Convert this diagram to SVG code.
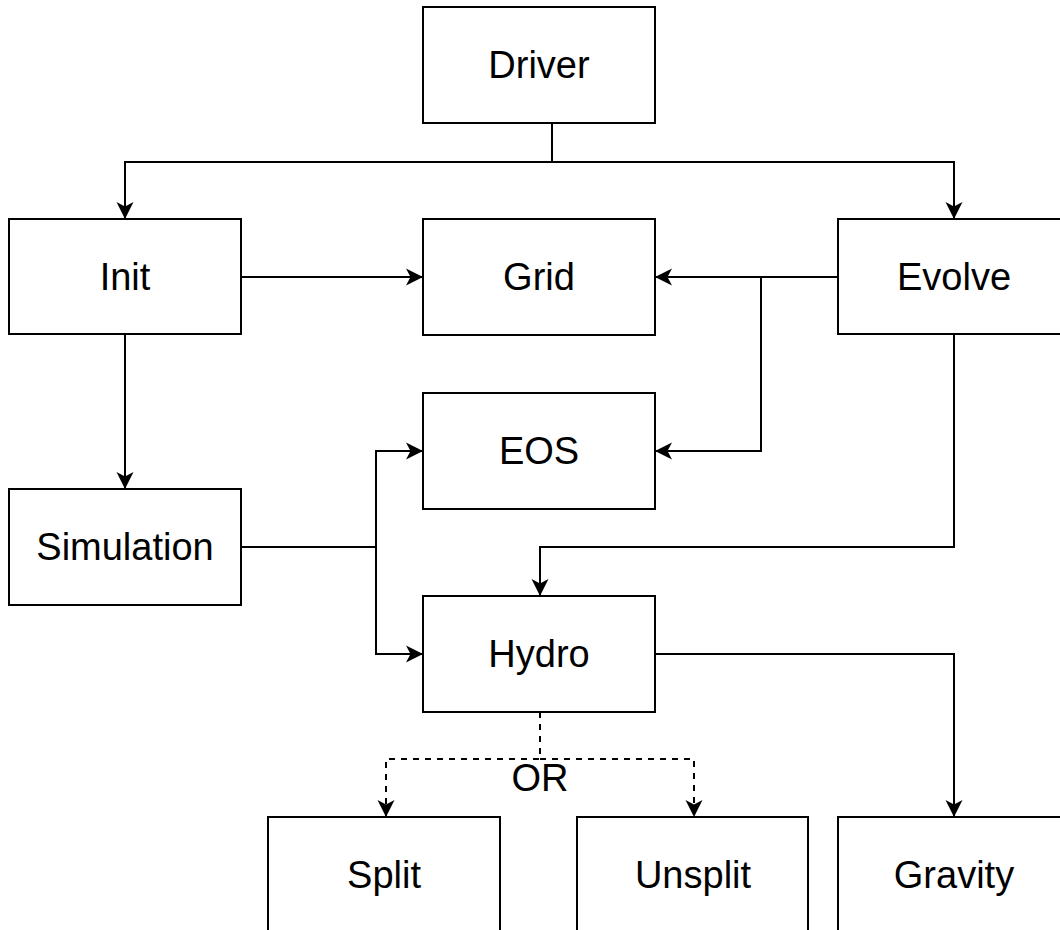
<svg xmlns="http://www.w3.org/2000/svg" width="1060" height="930" viewBox="0 0 1060 930">
<style>
.box{fill:#fff;stroke:#000;stroke-width:2}
.lbl{font-family:"Liberation Sans",Arial,sans-serif;font-size:38px;fill:#000;text-anchor:middle}
.edge{fill:none;stroke:#000;stroke-width:2}
.dash{stroke-dasharray:6 6}
</style>
<defs>
<marker id="arr" viewBox="-18 -10 20 20" refX="0" refY="0" markerWidth="20" markerHeight="20" markerUnits="userSpaceOnUse" orient="auto">
<path d="M0,0 L-17,-8.5 L-12.5,0 L-17,8.5 Z" fill="#000" stroke="none"/>
</marker>
</defs>
<rect width="1060" height="930" fill="#fff"/>
<g id="connectors">
<path class="edge" d="M552,123 V162 H125 V219" marker-end="url(#arr)"/>
<path class="edge" d="M552,162 H954 V219" marker-end="url(#arr)"/>
<path class="edge" d="M241,277 H423" marker-end="url(#arr)"/>
<path class="edge" d="M838,277 H655" marker-end="url(#arr)"/>
<path class="edge" d="M761,277 V451 H655" marker-end="url(#arr)"/>
<path class="edge" d="M125,334 V489" marker-end="url(#arr)"/>
<path class="edge" d="M241,547 H376 V451 H423" marker-end="url(#arr)"/>
<path class="edge" d="M376,547 V654 H423" marker-end="url(#arr)"/>
<path class="edge" d="M954,334 V547 H540 V596" marker-end="url(#arr)"/>
<path class="edge" d="M655,654 H954 V817" marker-end="url(#arr)"/>
<path class="edge dash" d="M540,712 V759 H386 V817" marker-end="url(#arr)"/>
<path class="edge dash" d="M540,759 H694 V817" marker-end="url(#arr)"/>
<text class="lbl" x="540" y="791">OR</text>
</g>
<g id="driver"><rect class="box" x="423" y="7" width="232" height="116"/><text class="lbl" x="539" y="78">Driver</text></g>
<g id="init"><rect class="box" x="9" y="219" width="232" height="115"/><text class="lbl" x="125" y="290">Init</text></g>
<g id="grid"><rect class="box" x="423" y="219" width="232" height="116"/><text class="lbl" x="539" y="290">Grid</text></g>
<g id="evolve"><rect class="box" x="838" y="219" width="232" height="115"/><text class="lbl" x="954" y="290">Evolve</text></g>
<g id="eos"><rect class="box" x="423" y="393" width="232" height="116"/><text class="lbl" x="539" y="464">EOS</text></g>
<g id="simulation"><rect class="box" x="9" y="489" width="232" height="116"/><text class="lbl" x="125" y="560">Simulation</text></g>
<g id="hydro"><rect class="box" x="423" y="596" width="232" height="116"/><text class="lbl" x="539" y="667">Hydro</text></g>
<g id="split"><rect class="box" x="268" y="817" width="232" height="116"/><text class="lbl" x="384" y="888">Split</text></g>
<g id="unsplit"><rect class="box" x="577" y="817" width="231" height="116"/><text class="lbl" x="693" y="888">Unsplit</text></g>
<g id="gravity"><rect class="box" x="838" y="817" width="232" height="116"/><text class="lbl" x="954" y="888">Gravity</text></g>
</svg>
